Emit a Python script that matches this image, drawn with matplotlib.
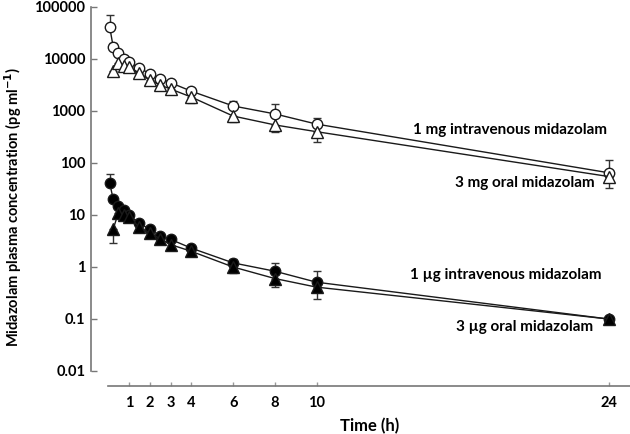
import matplotlib
matplotlib.use("Agg")
import matplotlib.pyplot as plt
from matplotlib.ticker import FixedLocator, FixedFormatter, NullLocator

plt.rcParams['font.family'] = ['Lato', 'DejaVu Sans']
plt.rcParams['font.weight'] = 'bold'

# sampling times (h)
t_iv = [0.083, 0.25, 0.5, 0.75, 1, 1.5, 2, 2.5, 3, 4, 6, 8, 10, 24]
t_po = [0.25, 0.5, 0.75, 1, 1.5, 2, 2.5, 3, 4, 6, 8, 10, 24]

# 1 mg iv / 3 mg oral (pg/ml)
mg_iv = [41000, 17000, 13000, 10000, 8700, 6800, 5200, 4200, 3500, 2400, 1250, 880, 560, 65]
mg_iv_sd = [29000, 3000, 1500, 1200, 900, 700, 500, 400, 300, 400, 300, 470, 170, 50]
mg_po = [5800, 8300, 7400, 7000, 5400, 4000, 3150, 2650, 1850, 800, 540, 400, 55]
mg_po_sd = [600, 900, 800, 700, 600, 500, 400, 400, 450, 180, 140, 150, 22]

# 1 ug iv / 3 ug oral (pg/ml)
ug_iv = [41, 20, 15, 12.5, 10, 7.0, 5.3, 4.0, 3.4, 2.3, 1.2, 0.83, 0.51, 0.1]
ug_iv_sd = [21, 2, 1.5, 1.2, 1.0, 0.9, 0.7, 0.5, 0.5, 0.3, 0.25, 0.37, 0.32, 0.005]
ug_po = [5.4, 11, 10, 9, 5.9, 4.5, 3.5, 2.7, 2.0, 1.0, 0.6, 0.41, 0.1]
ug_po_sd = [2.5, 1.5, 1.2, 1.0, 0.8, 0.6, 0.5, 0.4, 0.3, 0.25, 0.19, 0.17, 0.005]

x_ticks = [1, 2, 3, 4, 6, 8, 10, 24]
y_ticks = [0.01, 0.1, 1, 10, 100, 1000, 10000, 100000]
y_labels = ['0.01', '0.1', '1', '10', '100', '1000', '10000', '100000']

fig = plt.figure(figsize=(6.3, 4.34), dpi=100)
ax = fig.add_axes([91 / 630, 1 - 386 / 434, 1 - 91 / 630, (386 - 7) / 434])

lc = '#1a1a1a'


def draw(t, y, sd, marker, face, upper):
    if upper:
        err = [[0] * len(sd), sd]
    else:
        err = [sd, [0] * len(sd)]
    ax.errorbar(t, y, yerr=err, fmt='none', ecolor='#333333', elinewidth=1,
                capsize=3, capthick=1, zorder=2)
    ax.plot(t, y, color=lc, lw=1, marker=marker, ms=7.5 if marker == 'o' else 8,
            mfc=face, mec=lc, mew=1, zorder=3)


draw(t_iv, mg_iv, mg_iv_sd, 'o', 'white', True)
draw(t_po, mg_po, mg_po_sd, '^', 'white', False)
draw(t_iv, ug_iv, ug_iv_sd, 'o', 'black', True)
draw(t_po, ug_po, ug_po_sd, '^', 'black', False)

ax.set_yscale('log')
ax.set_xlim(-0.815, 25.03)
ax.set_ylim(10 ** (-2 - 15 / 52), 1e5)

ax.spines['top'].set_visible(False)
ax.spines['right'].set_visible(False)
for s in ('left', 'bottom'):
    ax.spines[s].set_color('#777777')
    ax.spines[s].set_linewidth(1.2)
ax.spines['left'].set_bounds(0.01, 1e5)
ax.spines['bottom'].set_bounds(0, 25.03)

ax.yaxis.set_major_locator(FixedLocator(y_ticks))
ax.yaxis.set_major_formatter(FixedFormatter(y_labels))
ax.yaxis.set_minor_locator(NullLocator())
ax.set_xticks(x_ticks)
ax.set_xticklabels([str(v) for v in x_ticks])

ax.tick_params(axis='y', direction='in', length=4, width=1, color='#777777',
               pad=4, labelsize=10.5)
ax.tick_params(axis='x', direction='in', length=3, width=1, color='#999999',
               pad=7, labelsize=10.5)
for lab in ax.get_xticklabels() + ax.get_yticklabels():
    lab.set_fontweight('bold')

ax.set_xlabel('Time (h)', fontsize=12, fontweight='bold', labelpad=4)
ax.xaxis.set_label_coords((370 - 91) / 539, -(418 - 386) / 379)
fig.text(13 / 630, 1 - 207 / 434,
         'Midazolam plasma concentration (pg ml$^{\\mathbf{-1}}$)',
         fontsize=10.5, fontweight='bold', rotation=90, ha='center', va='center')

txt = dict(fontsize=11, fontweight='bold', ha='right', va='center',
           transform=fig.transFigure)
fig.text(607 / 630, 1 - 130 / 434, '1 mg intravenous midazolam', **txt)
fig.text(595 / 630, 1 - 183 / 434, '3 mg oral midazolam', **txt)
fig.text(602 / 630, 1 - 275 / 434, '1 \u00b5g intravenous midazolam', **txt)
fig.text(593 / 630, 1 - 327 / 434, '3 \u00b5g oral midazolam', **txt)

fig.savefig('out.png', dpi=100)
